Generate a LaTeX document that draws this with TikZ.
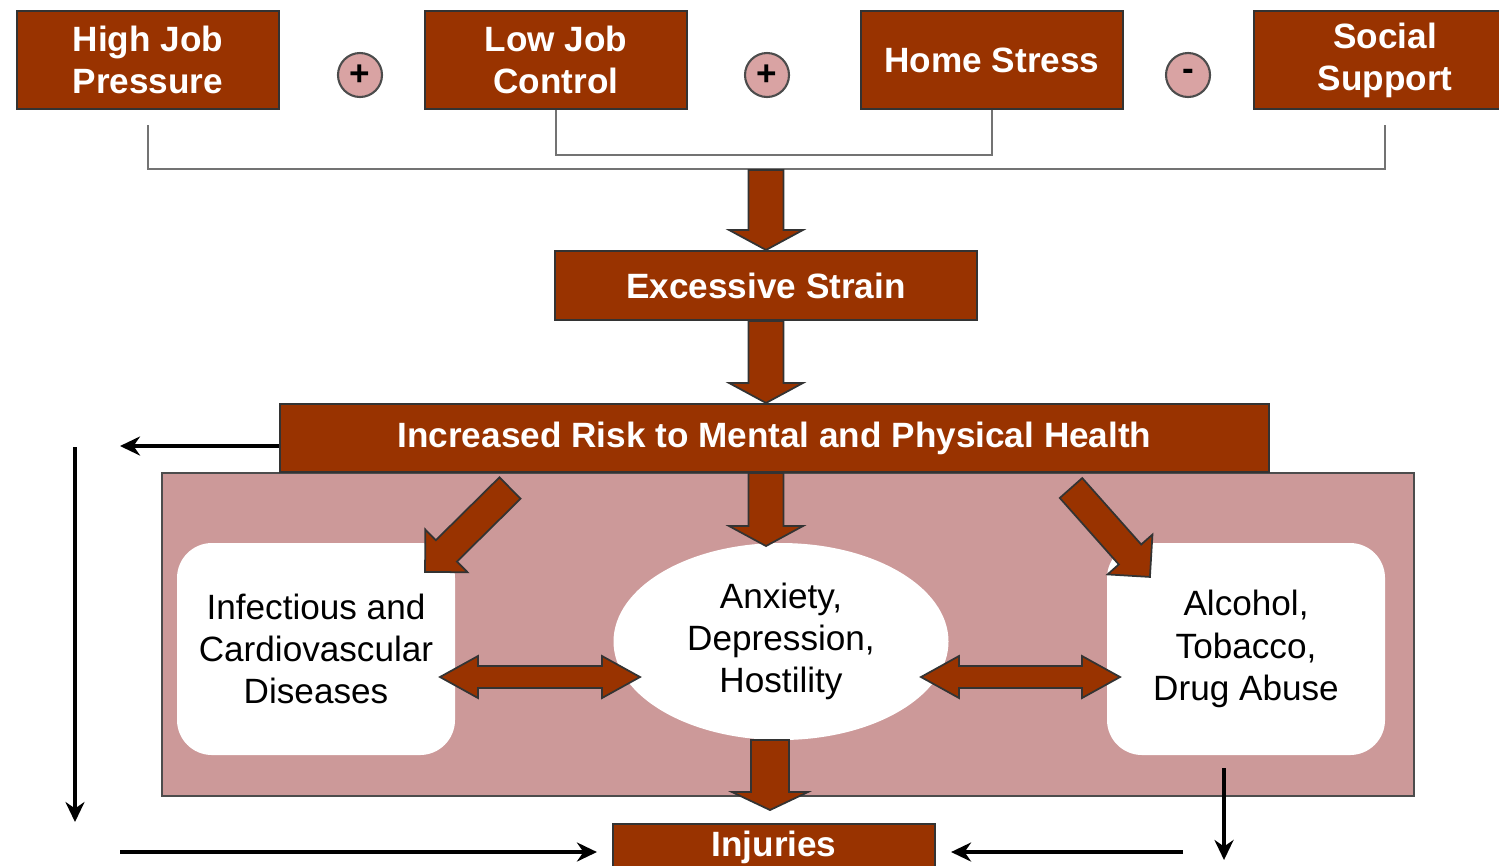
\documentclass[tikz,border=0pt]{standalone}
\usepackage{fontspec}
\setmainfont{Liberation Sans}
\usetikzlibrary{calc,arrows.meta,shapes.geometric}

\definecolor{rust}{HTML}{993300}
\definecolor{rosepanel}{HTML}{CC9999}
\definecolor{rosedot}{HTML}{D9A3A3}

% block arrows: tail, tip, half shaft, half head, head length
\newcommand{\fatarrow}[5]{%
  \draw[blockarrow] let \p1=($(#2)-(#1)$), \n1={veclen(\x1,\y1)}, \n2={atan2(\y1,\x1)} in
    [shift={(#1)}, rotate=\n2]
    (0pt,-#3) -- (\n1-#5,-#3) -- (\n1-#5,-#4) -- (\n1,0pt) -- (\n1-#5,#4) -- (\n1-#5,#3) -- (0pt,#3) -- cycle;}
\newcommand{\fatdarrow}[5]{%
  \draw[blockarrow] let \p1=($(#2)-(#1)$), \n1={veclen(\x1,\y1)}, \n2={atan2(\y1,\x1)} in
    [shift={(#1)}, rotate=\n2]
    (0pt,0pt) -- (#5,-#4) -- (#5,-#3) -- (\n1-#5,-#3) -- (\n1-#5,-#4) -- (\n1,0pt)
    -- (\n1-#5,#4) -- (\n1-#5,#3) -- (#5,#3) -- (#5,#4) -- cycle;}

\begin{document}
\begin{tikzpicture}[
  redbox/.style={draw=black!80, line width=0.6pt, fill=rust, text=white, font=\bfseries, align=center, inner sep=0pt},
  topbox/.style={redbox, minimum width=2.62cm, minimum height=0.98cm},
  opdot/.style={circle, draw=black!70, fill=rosedot, line width=0.6pt, minimum size=0.44cm, inner sep=0pt, font=\bfseries},
  bracket/.style={draw=black!55, line width=0.7pt},
  blockarrow/.style={draw=black!80, fill=rust, line width=0.5pt, line join=miter},
  whitebox/.style={fill=white, rounded corners=0.35cm, minimum width=2.78cm, minimum height=2.12cm, align=center, inner sep=0pt},
  thinarrow/.style={draw=black, line width=1.3pt, -{Stealth[length=2mm,width=1.9mm]}}
]
\useasboundingbox (0,0) rectangle (14.99,-8.65);

\node (hjp) [topbox] at (1.48,-0.60) {High Job\\Pressure};
\node (ljc) [topbox] at (5.56,-0.60) {Low Job\\Control};
\node (hs) [topbox] at (9.92,-0.60) {Home Stress};
\node (ss) [topbox] at (13.85,-0.60) {Social\\Support};
\node (plusa) [opdot] at (3.60,-0.75) {+};
\node (plusb) [opdot] at (7.67,-0.75) {+};
\node (minus) [opdot] at (11.88,-0.75) {-};

\draw[bracket] ([yshift=-1.5mm]hjp.south) -- ++(0,-0.44) -| ([yshift=-1.5mm]ss.south);
\draw[bracket] (ljc.south) -- ++(0,-0.45) -| (hs.south);

\node (es) [redbox, minimum width=4.22cm, minimum height=0.69cm] at (7.66,-2.855) {Excessive Strain};
\node (panel) [draw=black!70, fill=rosepanel, line width=0.6pt, minimum width=12.52cm, minimum height=3.23cm, inner sep=0pt] at (7.88,-6.345) {};
\node (irh) [redbox, minimum width=9.89cm, minimum height=0.68cm] at (7.745,-4.38) {Increased Risk to Mental and Physical Health};

\node (icd) [whitebox] at (3.16,-6.49) {Infectious and\\Cardiovascular\\Diseases};
\node (ads) [ellipse, fill=white, minimum width=3.35cm, minimum height=1.97cm, align=center, inner sep=0pt] at (7.81,-6.415) {Anxiety,\\Depression,\\Hostility};
\node (atd) [whitebox] at (12.46,-6.49) {Alcohol,\\Tobacco,\\Drug Abuse};
\node (inj) [redbox, anchor=north, minimum width=3.22cm, minimum height=0.46cm] at (7.74,-8.23) {Injuries};

\coordinate (join) at (7.66,-1.70);
\coordinate (irhtop) at (irh.north -| es.south);
\coordinate (irhbot) at (irh.south -| es.south);
\coordinate (adstop) at (7.66,-5.46);
\coordinate (adsbot) at (7.70,-7.40);
\coordinate (injtop) at (7.70,-8.10);
\coordinate (icdtail) at (5.10,-4.88);
\coordinate (icdtip) at (4.25,-5.72);
\coordinate (atdtail) at (10.71,-4.88);
\coordinate (atdtip) at (11.50,-5.77);
\coordinate (leftl) at (4.40,-6.77);
\coordinate (leftr) at (6.40,-6.77);
\coordinate (rightl) at (9.21,-6.77);
\coordinate (rightr) at (11.20,-6.77);

\fatarrow{join}{es.north}{0.175cm}{0.37cm}{0.2cm}
\fatarrow{es.south}{irhtop}{0.175cm}{0.37cm}{0.2cm}
\fatarrow{irhbot}{adstop}{0.175cm}{0.37cm}{0.2cm}
\fatarrow{icdtail}{icdtip}{0.15cm}{0.30cm}{0.30cm}
\fatarrow{atdtail}{atdtip}{0.15cm}{0.30cm}{0.30cm}
\fatarrow{adsbot}{injtop}{0.19cm}{0.38cm}{0.18cm}
\fatdarrow{leftl}{leftr}{0.11cm}{0.21cm}{0.38cm}
\fatdarrow{rightl}{rightr}{0.11cm}{0.21cm}{0.38cm}

\coordinate (la) at (1.20,-4.46);
\coordinate (lvtop) at (0.75,-4.47);
\coordinate (lvbot) at (0.75,-8.22);
\coordinate (lb) at (1.20,-8.52);
\coordinate (rvtop) at (12.24,-7.68);
\coordinate (rvbot) at (12.24,-8.60);
\coordinate (rb) at (11.83,-8.52);
\draw[thinarrow] (irh.west |- la) -- (la);
\draw[thinarrow] (lvtop) -- (lvbot);
\draw[thinarrow] (lb) -- ([xshift=-1.5mm]inj.west |- lb);
\draw[thinarrow] (rvtop) -- (rvbot);
\draw[thinarrow] (rb) -- ([xshift=1.5mm]inj.east |- rb);
\end{tikzpicture}
\end{document}
